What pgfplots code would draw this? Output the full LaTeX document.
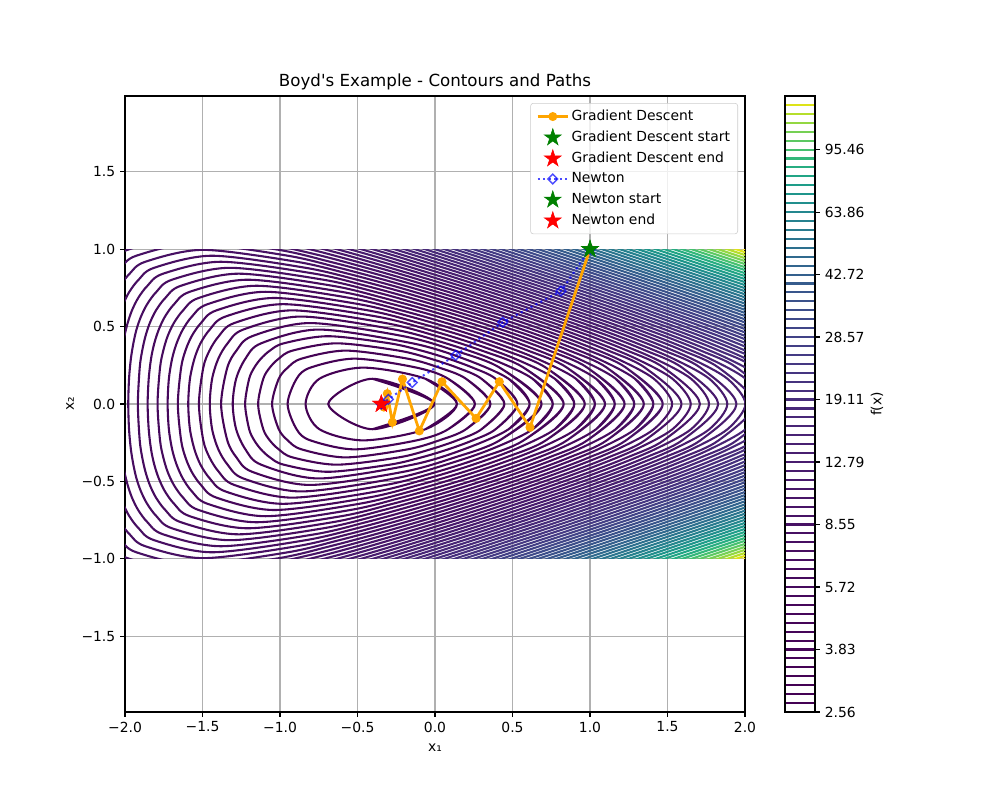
\documentclass[border=0pt]{standalone}
\usepackage{fontspec}
\setmainfont{DejaVu Sans}[Ligatures=TeXOff]
\usepackage{pgfplots}
\pgfplotsset{compat=1.18}

\definecolor{mplorange}{HTML}{FFA500}
\definecolor{mplgreen}{HTML}{008000}
\definecolor{mplred}{HTML}{FF0000}
\definecolor{mplblue}{HTML}{0000FF}
\definecolor{gridgray}{HTML}{B0B0B0}
\definecolor{lv0}{rgb}{.267,.005,.329}
\definecolor{lv1}{rgb}{.267,.005,.329}
\definecolor{lv2}{rgb}{.267,.005,.329}
\definecolor{lv3}{rgb}{.267,.005,.329}
\definecolor{lv4}{rgb}{.269,.010,.335}
\definecolor{lv5}{rgb}{.269,.010,.335}
\definecolor{lv6}{rgb}{.270,.015,.341}
\definecolor{lv7}{rgb}{.270,.015,.341}
\definecolor{lv8}{rgb}{.270,.015,.341}
\definecolor{lv9}{rgb}{.271,.020,.347}
\definecolor{lv10}{rgb}{.271,.020,.347}
\definecolor{lv11}{rgb}{.273,.026,.353}
\definecolor{lv12}{rgb}{.273,.026,.353}
\definecolor{lv13}{rgb}{.274,.031,.359}
\definecolor{lv14}{rgb}{.275,.038,.365}
\definecolor{lv15}{rgb}{.275,.038,.365}
\definecolor{lv16}{rgb}{.276,.044,.370}
\definecolor{lv17}{rgb}{.277,.050,.376}
\definecolor{lv18}{rgb}{.277,.050,.376}
\definecolor{lv19}{rgb}{.278,.056,.381}
\definecolor{lv20}{rgb}{.279,.062,.387}
\definecolor{lv21}{rgb}{.280,.068,.392}
\definecolor{lv22}{rgb}{.280,.073,.397}
\definecolor{lv23}{rgb}{.281,.079,.402}
\definecolor{lv24}{rgb}{.281,.084,.407}
\definecolor{lv25}{rgb}{.282,.090,.412}
\definecolor{lv26}{rgb}{.283,.100,.422}
\definecolor{lv27}{rgb}{.283,.105,.427}
\definecolor{lv28}{rgb}{.283,.111,.432}
\definecolor{lv29}{rgb}{.283,.121,.441}
\definecolor{lv30}{rgb}{.283,.126,.445}
\definecolor{lv31}{rgb}{.283,.136,.453}
\definecolor{lv32}{rgb}{.282,.146,.462}
\definecolor{lv33}{rgb}{.281,.156,.469}
\definecolor{lv34}{rgb}{.281,.161,.473}
\definecolor{lv35}{rgb}{.279,.175,.483}
\definecolor{lv36}{rgb}{.277,.185,.490}
\definecolor{lv37}{rgb}{.275,.195,.496}
\definecolor{lv38}{rgb}{.272,.209,.504}
\definecolor{lv39}{rgb}{.269,.219,.510}
\definecolor{lv40}{rgb}{.265,.233,.517}
\definecolor{lv41}{rgb}{.261,.247,.523}
\definecolor{lv42}{rgb}{.256,.261,.528}
\definecolor{lv43}{rgb}{.250,.274,.533}
\definecolor{lv44}{rgb}{.243,.292,.539}
\definecolor{lv45}{rgb}{.237,.305,.542}
\definecolor{lv46}{rgb}{.230,.322,.546}
\definecolor{lv47}{rgb}{.222,.339,.549}
\definecolor{lv48}{rgb}{.212,.360,.552}
\definecolor{lv49}{rgb}{.205,.376,.554}
\definecolor{lv50}{rgb}{.196,.395,.555}
\definecolor{lv51}{rgb}{.187,.415,.557}
\definecolor{lv52}{rgb}{.177,.438,.558}
\definecolor{lv53}{rgb}{.168,.460,.558}
\definecolor{lv54}{rgb}{.159,.482,.558}
\definecolor{lv55}{rgb}{.150,.504,.557}
\definecolor{lv56}{rgb}{.141,.530,.556}
\definecolor{lv57}{rgb}{.130,.560,.552}
\definecolor{lv58}{rgb}{.121,.586,.547}
\definecolor{lv59}{rgb}{.119,.615,.538}
\definecolor{lv60}{rgb}{.128,.648,.523}
\definecolor{lv61}{rgb}{.152,.680,.504}
\definecolor{lv62}{rgb}{.199,.716,.477}
\definecolor{lv63}{rgb}{.274,.752,.437}
\definecolor{lv64}{rgb}{.361,.786,.386}
\definecolor{lv65}{rgb}{.459,.816,.330}
\definecolor{lv66}{rgb}{.576,.845,.256}
\definecolor{lv67}{rgb}{.710,.869,.169}
\definecolor{lv68}{rgb}{.866,.890,.096}
\definecolor{lv69}{rgb}{.993,.906,.144}

\pgfdeclareplotmark{fstar}{%
  \pgfpathmoveto{\pgfpointpolar{90}{\pgfplotmarksize}}%
  \pgfpathlineto{\pgfpointpolar{126}{0.382*\pgfplotmarksize}}%
  \pgfpathlineto{\pgfpointpolar{162}{\pgfplotmarksize}}%
  \pgfpathlineto{\pgfpointpolar{198}{0.382*\pgfplotmarksize}}%
  \pgfpathlineto{\pgfpointpolar{234}{\pgfplotmarksize}}%
  \pgfpathlineto{\pgfpointpolar{270}{0.382*\pgfplotmarksize}}%
  \pgfpathlineto{\pgfpointpolar{306}{\pgfplotmarksize}}%
  \pgfpathlineto{\pgfpointpolar{342}{0.382*\pgfplotmarksize}}%
  \pgfpathlineto{\pgfpointpolar{18}{\pgfplotmarksize}}%
  \pgfpathlineto{\pgfpointpolar{54}{0.382*\pgfplotmarksize}}%
  \pgfpathclose
  \pgfusepathqfillstroke
}

\begin{document}
\begin{tikzpicture}
\useasboundingbox (0,0) rectangle (720pt,576pt);

% ---------- main frame, grid, ticks, labels ----------
\begin{axis}[
  name=main, at={(90pt,63.36pt)}, anchor=south west,
  scale only axis, width=446.4pt, height=443.52pt,
  xmin=-2, xmax=2, ymin=-1.99, ymax=1.99,
  xtick={-2,-1.5,-1,-0.5,0,0.5,1,1.5,2},
  xticklabels={−2.0,−1.5,−1.0,−0.5,0.0,0.5,1.0,1.5,2.0},
  ytick={-1.5,-1,-0.5,0,0.5,1,1.5},
  yticklabels={−1.5,−1.0,−0.5,0.0,0.5,1.0,1.5},
  tick pos=left, tick align=outside, major tick length=3.5pt,
  every tick/.style={black, line width=0.8pt},
  axis line style={line width=0.8pt},
  grid=major, major grid style={draw=gridgray, line width=0.8pt},
  title={Boyd's Example - Contours and Paths},
  every axis title shift=0pt,
  title style={font=\fontsize{12}{14}\selectfont, at={(axis description cs:0.5,1.0227)}, anchor=center, yshift=0pt},
  xlabel={x₁}, ylabel={x₂},
  xlabel style={at={(axis description cs:0.5,-0.0584)}, anchor=center},
  ylabel style={at={(axis description cs:-0.0887,0.5)}, anchor=center},
]
\end{axis}

% ---------- contour lines, clipped to [-2,2]x[-1,1] ----------
\begin{axis}[
  at={(main.center)}, anchor=center,
  scale only axis, width=446.4pt, height=222.874pt,
  xmin=-2, xmax=2, ymin=-1, ymax=1, hide axis,
  every axis plot/.append style={smooth, line width=1.5pt, line join=round},
]
\addplot[lv1] coordinates {(-0.404,-0.163) (-0.004,0) (-0.404,0.163) (-0.689,0) (-0.404,-0.163) (-0.004,0) (-0.404,0.163)};
\addplot[lv2] coordinates {(-0.062,-0.163) (0.142,0) (-0.062,0.163) (-0.462,0.235) (-0.746,0.163) (-0.835,0) (-0.746,-0.163) (-0.462,-0.235) (-0.062,-0.163) (0.142,0) (-0.062,0.163)};
\addplot[lv3] coordinates {(0.085,-0.163) (0.258,0) (0.085,0.163) (-0.119,0.235) (-0.519,0.293) (-0.804,0.235) (-0.893,0.163) (-0.951,0) (-0.893,-0.163) (-0.804,-0.235) (-0.519,-0.293) (-0.119,-0.235) (0.085,-0.163) (0.258,0) (0.085,0.163)};
\addplot[lv4] coordinates {(0.200,-0.163) (0.358,0) (0.200,0.163) (0.027,0.235) (-0.177,0.293) (-0.576,0.345) (-0.861,0.293) (-0.950,0.235) (-1.008,0.163) (-1.051,0) (-1.008,-0.163) (-0.950,-0.235) (-0.861,-0.293) (-0.576,-0.345) (-0.177,-0.293) (0.027,-0.235) (0.200,-0.163) (0.358,0) (0.200,0.163)};
\addplot[lv5] coordinates {(0.300,-0.163) (0.448,0) (0.300,0.163) (0.143,0.235) (-0.030,0.293) (-0.234,0.345) (-0.634,0.392) (-0.919,0.345) (-1.008,0.293) (-1.066,0.235) (-1.108,0.163) (-1.141,0) (-1.108,-0.163) (-1.066,-0.235) (-1.008,-0.293) (-0.919,-0.345) (-0.634,-0.392) (-0.234,-0.345) (-0.030,-0.293) (0.143,-0.235) (0.300,-0.163) (0.448,0) (0.300,0.163)};
\addplot[lv6] coordinates {(0.391,-0.163) (0.532,0) (0.391,0.163) (0.243,0.235) (0.085,0.293) (-0.088,0.345) (-0.292,0.392) (-0.691,0.438) (-0.976,0.392) (-1.065,0.345) (-1.123,0.293) (-1.166,0.235) (-1.199,0.163) (-1.225,0) (-1.199,-0.163) (-1.166,-0.235) (-1.123,-0.293) (-1.065,-0.345) (-0.976,-0.392) (-0.691,-0.438) (-0.292,-0.392) (-0.088,-0.345) (0.085,-0.293) (0.243,-0.235) (0.391,-0.163) (0.532,0) (0.391,0.163)};
\addplot[lv7] coordinates {(0.475,-0.163) (0.611,0) (0.475,0.163) (0.185,0.293) (-0.145,0.392) (-0.749,0.481) (-1.122,0.392) (-1.223,0.293) (-1.283,0.163) (-1.305,0) (-1.283,-0.163) (-1.223,-0.293) (-1.122,-0.392) (-0.749,-0.481) (-0.145,-0.392) (0.185,-0.293) (0.475,-0.163) (0.611,0) (0.475,0.163)};
\addplot[lv8] coordinates {(0.417,-0.235) (0.687,0) (0.417,0.235) (0.128,0.345) (-0.203,0.438) (-0.806,0.523) (-1.180,0.438) (-1.281,0.345) (-1.340,0.235) (-1.380,0) (-1.340,-0.235) (-1.281,-0.345) (-1.180,-0.438) (-0.806,-0.523) (-0.203,-0.438) (0.128,-0.345) (0.417,-0.235) (0.687,0) (0.417,0.235)};
\addplot[lv9] coordinates {(0.630,-0.163) (0.760,0) (0.630,0.163) (0.360,0.293) (0.070,0.392) (-0.260,0.481) (-0.864,0.565) (-1.237,0.481) (-1.338,0.392) (-1.398,0.293) (-1.438,0.163) (-1.453,0) (-1.438,-0.163) (-1.398,-0.293) (-1.338,-0.392) (-1.237,-0.481) (-0.864,-0.565) (-0.260,-0.481) (0.070,-0.392) (0.360,-0.293) (0.630,-0.163) (0.760,0) (0.630,0.163)};
\addplot[lv10] coordinates {(0.572,-0.235) (0.830,0) (0.572,0.235) (0.302,0.345) (0.013,0.438) (-0.318,0.523) (-0.921,0.605) (-1.295,0.523) (-1.395,0.438) (-1.455,0.345) (-1.495,0.235) (-1.523,0) (-1.495,-0.235) (-1.455,-0.345) (-1.395,-0.438) (-1.295,-0.523) (-0.921,-0.605) (-0.318,-0.523) (0.013,-0.438) (0.302,-0.345) (0.572,-0.235) (0.830,0) (0.572,0.235)};
\addplot[lv11] coordinates {(0.773,-0.163) (0.899,0) (0.773,0.163) (0.515,0.293) (0.245,0.392) (-0.045,0.481) (-0.375,0.565) (-0.979,0.645) (-1.352,0.565) (-1.453,0.481) (-1.513,0.392) (-1.552,0.293) (-1.581,0.163) (-1.592,0) (-1.581,-0.163) (-1.552,-0.293) (-1.513,-0.392) (-1.453,-0.481) (-1.352,-0.565) (-0.979,-0.645) (-0.375,-0.565) (-0.045,-0.481) (0.245,-0.392) (0.515,-0.293) (0.773,-0.163) (0.899,0) (0.773,0.163)};
\addplot[lv12] coordinates {(0.715,-0.235) (0.966,0) (0.715,0.235) (0.457,0.345) (0.188,0.438) (-0.102,0.523) (-0.432,0.605) (-1.036,0.685) (-1.410,0.605) (-1.510,0.523) (-1.570,0.438) (-1.610,0.345) (-1.638,0.235) (-1.659,0) (-1.638,-0.235) (-1.610,-0.345) (-1.570,-0.438) (-1.510,-0.523) (-1.410,-0.605) (-1.036,-0.685) (-0.432,-0.605) (-0.102,-0.523) (0.188,-0.438) (0.457,-0.345) (0.715,-0.235) (0.966,0) (0.715,0.235)};
\addplot[lv13] coordinates {(0.909,-0.163) (1.032,0) (0.909,0.163) (0.658,0.293) (0.400,0.392) (0.130,0.481) (-0.160,0.565) (-0.490,0.645) (-1.093,0.725) (-1.467,0.645) (-1.568,0.565) (-1.627,0.481) (-1.667,0.392) (-1.696,0.293) (-1.717,0.163) (-1.725,0) (-1.717,-0.163) (-1.696,-0.293) (-1.667,-0.392) (-1.627,-0.481) (-1.568,-0.565) (-1.467,-0.645) (-1.093,-0.725) (-0.490,-0.645) (-0.160,-0.565) (0.130,-0.481) (0.400,-0.392) (0.658,-0.293) (0.909,-0.163) (1.032,0) (0.909,0.163)};
\addplot[lv14] coordinates {(0.851,-0.235) (1.097,0) (0.851,0.235) (0.600,0.345) (0.342,0.438) (0.073,0.523) (-0.217,0.605) (-0.547,0.685) (-1.151,0.764) (-1.525,0.685) (-1.625,0.605) (-1.685,0.523) (-1.725,0.438) (-1.753,0.345) (-1.774,0.235) (-1.790,0) (-1.774,-0.235) (-1.753,-0.345) (-1.725,-0.438) (-1.685,-0.523) (-1.625,-0.605) (-1.525,-0.685) (-1.151,-0.764) (-0.547,-0.685) (-0.217,-0.605) (0.073,-0.523) (0.342,-0.438) (0.600,-0.345) (0.851,-0.235) (1.097,0) (0.851,0.235)};
\addplot[lv15] coordinates {(1.039,-0.163) (1.160,0) (1.039,0.163) (0.794,0.293) (0.543,0.392) (0.285,0.481) (0.015,0.565) (-0.274,0.645) (-0.605,0.725) (-1.208,0.803) (-1.582,0.725) (-1.683,0.645) (-1.742,0.565) (-1.782,0.481) (-1.811,0.392) (-1.832,0.293) (-1.847,0.163) (-1.854,0) (-1.847,-0.163) (-1.832,-0.293) (-1.811,-0.392) (-1.782,-0.481) (-1.742,-0.565) (-1.683,-0.645) (-1.582,-0.725) (-1.208,-0.803) (-0.605,-0.725) (-0.274,-0.645) (0.015,-0.565) (0.285,-0.481) (0.543,-0.392) (0.794,-0.293) (1.039,-0.163) (1.160,0) (1.039,0.163)};
\addplot[lv16] coordinates {(0.982,-0.235) (1.223,0) (0.982,0.235) (0.736,0.345) (0.486,0.438) (0.227,0.523) (-0.042,0.605) (-0.332,0.685) (-0.662,0.764) (-1.266,0.842) (-1.639,0.764) (-1.740,0.685) (-1.800,0.605) (-1.840,0.523) (-1.868,0.438) (-1.889,0.345) (-1.905,0.235) (-1.917,0) (-1.905,-0.235) (-1.889,-0.345) (-1.868,-0.438) (-1.840,-0.523) (-1.800,-0.605) (-1.740,-0.685) (-1.639,-0.764) (-1.266,-0.842) (-0.662,-0.764) (-0.332,-0.685) (-0.042,-0.605) (0.227,-0.523) (0.486,-0.438) (0.736,-0.345) (0.982,-0.235) (1.223,0) (0.982,0.235)};
\addplot[lv17] coordinates {(1.166,-0.163) (1.286,0) (1.166,0.163) (0.924,0.293) (0.679,0.392) (0.428,0.481) (0.170,0.565) (-0.100,0.645) (-0.389,0.725) (-0.720,0.803) (-1.323,0.880) (-1.697,0.803) (-1.797,0.725) (-1.857,0.645) (-1.897,0.565) (-1.926,0.481) (-1.946,0.392) (-1.962,0.293) (-1.974,0.163) (-1.979,0) (-1.974,-0.163) (-1.962,-0.293) (-1.946,-0.392) (-1.926,-0.481) (-1.897,-0.565) (-1.857,-0.645) (-1.797,-0.725) (-1.697,-0.803) (-1.323,-0.880) (-0.720,-0.803) (-0.389,-0.725) (-0.100,-0.645) (0.170,-0.565) (0.428,-0.481) (0.679,-0.392) (0.924,-0.293) (1.166,-0.163) (1.286,0) (1.166,0.163)};
\addplot[lv18] coordinates {(1.108,-0.235) (1.347,0) (1.108,0.235) (0.867,0.345) (0.621,0.438) (0.371,0.523) (0.113,0.605) (-0.157,0.685) (-0.447,0.764) (-0.777,0.842) (-1.381,0.919) (-1.754,0.842) (-1.855,0.764) (-1.915,0.685) (-1.955,0.605) (-1.983,0.523) (-2.004,0.438) (-2.020,0.345) (-2.031,0.235) (-2.041,0) (-2.031,-0.235) (-2.020,-0.345) (-2.004,-0.438) (-1.983,-0.523) (-1.955,-0.605) (-1.915,-0.685) (-1.855,-0.764) (-1.754,-0.842) (-1.381,-0.919) (-0.777,-0.842) (-0.447,-0.764) (-0.157,-0.685) (0.113,-0.605) (0.371,-0.523) (0.621,-0.438) (0.867,-0.345) (1.108,-0.235) (1.347,0) (1.108,0.235)};
\addplot[lv19] coordinates {(1.290,-0.163) (1.409,0) (1.290,0.163) (1.051,0.293) (0.809,0.392) (0.564,0.481) (0.313,0.565) (0.055,0.645) (-0.215,0.725) (-0.504,0.803) (-0.835,0.880) (-1.438,0.958) (-1.812,0.880) (-1.912,0.803) (-1.972,0.725) (-2.012,0.645) (-2.040,0.565) (-2.061,0.481) (-2.077,0.392) (-2.089,0.293) (-2.098,0.163) (-2.102,0) (-2.098,-0.163) (-2.089,-0.293) (-2.077,-0.392) (-2.061,-0.481) (-2.040,-0.565) (-2.012,-0.645) (-1.972,-0.725) (-1.912,-0.803) (-1.812,-0.880) (-1.438,-0.958) (-0.835,-0.880) (-0.504,-0.803) (-0.215,-0.725) (0.055,-0.645) (0.313,-0.565) (0.564,-0.481) (0.809,-0.392) (1.051,-0.293) (1.290,-0.163) (1.409,0) (1.290,0.163)};
\addplot[lv20] coordinates {(1.232,-0.235) (1.469,0) (1.232,0.235) (0.994,0.345) (0.752,0.438) (0.507,0.523) (0.256,0.605) (-0.002,0.685) (-0.272,0.764) (-0.562,0.842) (-0.892,0.919) (-1.496,0.996) (-1.869,0.919) (-1.970,0.842) (-2.030,0.764) (-2.069,0.685) (-2.098,0.605) (-2.119,0.523) (-2.134,0.438) (-2.146,0.345) (-2.155,0.235) (-2.163,0) (-2.155,-0.235) (-2.146,-0.345) (-2.134,-0.438) (-2.119,-0.523) (-2.098,-0.605) (-2.069,-0.685) (-2.030,-0.764) (-1.970,-0.842) (-1.869,-0.919) (-1.496,-0.996) (-0.892,-0.919) (-0.562,-0.842) (-0.272,-0.764) (-0.002,-0.685) (0.256,-0.605) (0.507,-0.523) (0.752,-0.438) (0.994,-0.345) (1.232,-0.235) (1.469,0) (1.232,0.235)};
\addplot[lv21] coordinates {(-2.087,-0.803) (-2.027,-0.880) (-1.927,-0.958) (-1.553,-1.035) (-0.949,-0.958) (-0.619,-0.880) (-0.330,-0.803) (-0.060,-0.725) (0.198,-0.645) (0.449,-0.565) (0.694,-0.481) (0.936,-0.392) (1.175,-0.293) (1.412,-0.163) (1.530,0) (1.412,0.163) (1.175,0.293) (0.936,0.392) (0.694,0.481) (0.449,0.565) (0.198,0.645) (-0.060,0.725) (-0.330,0.803) (-0.619,0.880) (-0.949,0.958) (-1.553,1.035) (-1.927,0.958) (-2.027,0.880) (-2.087,0.803)};
\addplot[lv22] coordinates {(-2.144,-0.842) (-2.085,-0.919) (-1.984,-0.996) (-1.610,-1.073) (-1.007,-0.996) (-0.677,-0.919) (-0.387,-0.842) (-0.117,-0.764) (0.141,-0.685) (0.392,-0.605) (0.637,-0.523) (0.879,-0.438) (1.118,-0.345) (1.354,-0.235) (1.590,0) (1.354,0.235) (1.118,0.345) (0.879,0.438) (0.637,0.523) (0.392,0.605) (0.141,0.685) (-0.117,0.764) (-0.387,0.842) (-0.677,0.919) (-1.007,0.996) (-1.610,1.073) (-1.984,0.996) (-2.085,0.919) (-2.144,0.842)};
\addplot[lv23] coordinates {(-1.064,-1.035) (-0.734,-0.958) (-0.444,-0.880) (-0.175,-0.803) (0.083,-0.725) (0.334,-0.645) (0.580,-0.565) (0.821,-0.481) (1.060,-0.392) (1.297,-0.293) (1.532,-0.163) (1.650,0) (1.532,0.163) (1.297,0.293) (1.060,0.392) (0.821,0.481) (0.580,0.565) (0.334,0.645) (0.083,0.725) (-0.175,0.803) (-0.444,0.880) (-0.734,0.958) (-1.064,1.035)};
\addplot[lv24] coordinates {(-1.122,-1.073) (-0.791,-0.996) (-0.502,-0.919) (-0.232,-0.842) (0.026,-0.764) (0.277,-0.685) (0.522,-0.605) (0.764,-0.523) (1.003,-0.438) (1.240,-0.345) (1.475,-0.235) (1.709,0) (1.475,0.235) (1.240,0.345) (1.003,0.438) (0.764,0.523) (0.522,0.605) (0.277,0.685) (0.026,0.764) (-0.232,0.842) (-0.502,0.919) (-0.791,0.996) (-1.122,1.073)};
\addplot[lv25] coordinates {(-0.849,-1.035) (-0.559,-0.958) (-0.290,-0.880) (-0.032,-0.803) (0.219,-0.725) (0.465,-0.645) (0.706,-0.565) (0.945,-0.481) (1.182,-0.392) (1.418,-0.293) (1.652,-0.163) (1.768,0) (1.652,0.163) (1.418,0.293) (1.182,0.392) (0.945,0.481) (0.706,0.565) (0.465,0.645) (0.219,0.725) (-0.032,0.803) (-0.290,0.880) (-0.559,0.958) (-0.849,1.035)};
\addplot[lv26] coordinates {(-0.906,-1.073) (-0.617,-0.996) (-0.347,-0.919) (-0.089,-0.842) (0.162,-0.764) (0.407,-0.685) (0.649,-0.605) (0.888,-0.523) (1.125,-0.438) (1.360,-0.345) (1.594,-0.235) (1.827,0) (1.594,0.235) (1.360,0.345) (1.125,0.438) (0.888,0.523) (0.649,0.605) (0.407,0.685) (0.162,0.764) (-0.089,0.842) (-0.347,0.919) (-0.617,0.996) (-0.906,1.073)};
\addplot[lv27] coordinates {(-0.674,-1.035) (-0.404,-0.958) (-0.146,-0.880) (0.104,-0.803) (0.350,-0.725) (0.591,-0.645) (0.830,-0.565) (1.067,-0.481) (1.303,-0.392) (1.537,-0.293) (1.770,-0.163) (1.886,0) (1.770,0.163) (1.537,0.293) (1.303,0.392) (1.067,0.481) (0.830,0.565) (0.591,0.645) (0.350,0.725) (0.104,0.803) (-0.146,0.880) (-0.404,0.958) (-0.674,1.035)};
\addplot[lv28] coordinates {(-0.732,-1.073) (-0.462,-0.996) (-0.204,-0.919) (0.047,-0.842) (0.292,-0.764) (0.534,-0.685) (0.773,-0.605) (1.010,-0.523) (1.245,-0.438) (1.479,-0.345) (1.712,-0.235) (1.945,0) (1.712,0.235) (1.479,0.345) (1.245,0.438) (1.010,0.523) (0.773,0.605) (0.534,0.685) (0.292,0.764) (0.047,0.842) (-0.204,0.919) (-0.462,0.996) (-0.732,1.073)};
\addplot[lv29] coordinates {(-0.519,-1.035) (-0.261,-0.958) (-0.011,-0.880) (0.235,-0.803) (0.477,-0.725) (0.715,-0.645) (0.952,-0.565) (1.188,-0.481) (1.422,-0.392) (1.655,-0.293) (1.887,-0.163) (2.003,0) (1.887,0.163) (1.655,0.293) (1.422,0.392) (1.188,0.481) (0.952,0.565) (0.715,0.645) (0.477,0.725) (0.235,0.803) (-0.011,0.880) (-0.261,0.958) (-0.519,1.035)};
\addplot[lv30] coordinates {(-0.577,-1.073) (-0.319,-0.996) (-0.068,-0.919) (0.177,-0.842) (0.419,-0.764) (0.658,-0.685) (0.895,-0.605) (1.130,-0.523) (1.364,-0.438) (1.598,-0.345) (1.830,-0.235) (2.062,0) (1.830,0.235) (1.598,0.345) (1.364,0.438) (1.130,0.523) (0.895,0.605) (0.658,0.685) (0.419,0.764) (0.177,0.842) (-0.068,0.919) (-0.319,0.996) (-0.577,1.073)};
\addplot[lv31] coordinates {(-0.376,-1.035) (-0.125,-0.958) (0.120,-0.880) (0.362,-0.803) (0.601,-0.725) (0.837,-0.645) (1.073,-0.565) (1.307,-0.481) (1.540,-0.392) (1.773,-0.293) (2.004,-0.163) (2.120,0) (2.004,0.163) (1.773,0.293) (1.540,0.392) (1.307,0.481) (1.073,0.565) (0.837,0.645) (0.601,0.725) (0.362,0.803) (0.120,0.880) (-0.125,0.958) (-0.376,1.035)};
\addplot[lv32] coordinates {(-0.434,-1.073) (-0.183,-0.996) (0.063,-0.919) (0.304,-0.842) (0.543,-0.764) (0.780,-0.685) (1.015,-0.605) (1.249,-0.523) (1.483,-0.438) (1.715,-0.345) (1.947,-0.235) (2.178,0) (1.947,0.235) (1.715,0.345) (1.483,0.438) (1.249,0.523) (1.015,0.605) (0.780,0.685) (0.543,0.764) (0.304,0.842) (0.063,0.919) (-0.183,0.996) (-0.434,1.073)};
\addplot[lv33] coordinates {(-0.240,-1.035) (0.005,-0.958) (0.247,-0.880) (0.486,-0.803) (0.723,-0.725) (0.958,-0.645) (1.192,-0.565) (1.425,-0.481) (1.658,-0.392) (1.890,-0.293) (2.121,-0.163) (2.237,0) (2.121,0.163) (1.890,0.293) (1.658,0.392) (1.425,0.481) (1.192,0.565) (0.958,0.645) (0.723,0.725) (0.486,0.803) (0.247,0.880) (0.005,0.958) (-0.240,1.035)};
\addplot[lv34] coordinates {(-0.298,-1.073) (-0.052,-0.996) (0.189,-0.919) (0.428,-0.842) (0.665,-0.764) (0.901,-0.685) (1.135,-0.605) (1.368,-0.523) (1.600,-0.438) (1.832,-0.345) (2.064,-0.235) (2.295,0) (2.064,0.235) (1.832,0.345) (1.600,0.438) (1.368,0.523) (1.135,0.605) (0.901,0.685) (0.665,0.764) (0.428,0.842) (0.189,0.919) (-0.052,0.996) (-0.298,1.073)};
\addplot[lv35] coordinates {(-0.110,-1.035) (0.132,-0.958) (0.371,-0.880) (0.608,-0.803) (0.843,-0.725) (1.077,-0.645) (1.310,-0.565) (1.543,-0.481) (1.775,-0.392) (2.006,-0.293) (2.237,-0.163) (2.353,0) (2.237,0.163) (2.006,0.293) (1.775,0.392) (1.543,0.481) (1.310,0.565) (1.077,0.645) (0.843,0.725) (0.608,0.803) (0.371,0.880) (0.132,0.958) (-0.110,1.035)};
\addplot[lv36] coordinates {(-0.167,-1.073) (0.074,-0.996) (0.313,-0.919) (0.550,-0.842) (0.786,-0.764) (1.020,-0.685) (1.253,-0.605) (1.485,-0.523) (1.717,-0.438) (1.949,-0.345) (2.180,-0.235) (2.411,0) (2.180,0.235) (1.949,0.345) (1.717,0.438) (1.485,0.523) (1.253,0.605) (1.020,0.685) (0.786,0.764) (0.550,0.842) (0.313,0.919) (0.074,0.996) (-0.167,1.073)};
\addplot[lv37] coordinates {(2.122,0.293) (1.891,0.392) (1.660,0.481) (1.428,0.565) (1.195,0.645) (0.962,0.725) (0.728,0.803) (0.493,0.880) (0.256,0.958) (0.017,1.035)};
\addplot[lv37] coordinates {(2.122,-0.293) (1.891,-0.392) (1.660,-0.481) (1.428,-0.565) (1.195,-0.645) (0.962,-0.725) (0.728,-0.803) (0.493,-0.880) (0.256,-0.958) (0.017,-1.035)};
\addplot[lv38] coordinates {(2.065,0.345) (1.834,0.438) (1.602,0.523) (1.370,0.605) (1.138,0.685) (0.905,0.764) (0.671,0.842) (0.435,0.919) (0.198,0.996) (-0.041,1.073)};
\addplot[lv38] coordinates {(2.065,-0.345) (1.834,-0.438) (1.602,-0.523) (1.370,-0.605) (1.138,-0.685) (0.905,-0.764) (0.671,-0.842) (0.435,-0.919) (0.198,-0.996) (-0.041,-1.073)};
\addplot[lv39] coordinates {(2.238,0.293) (2.007,0.392) (1.776,0.481) (1.545,0.565) (1.313,0.645) (1.081,0.725) (0.847,0.803) (0.613,0.880) (0.378,0.958) (0.141,1.035)};
\addplot[lv39] coordinates {(2.238,-0.293) (2.007,-0.392) (1.776,-0.481) (1.545,-0.565) (1.313,-0.645) (1.081,-0.725) (0.847,-0.803) (0.613,-0.880) (0.378,-0.958) (0.141,-1.035)};
\addplot[lv40] coordinates {(2.181,0.345) (1.950,0.438) (1.719,0.523) (1.487,0.605) (1.256,0.685) (1.023,0.764) (0.790,0.842) (0.556,0.919) (0.320,0.996) (0.084,1.073)};
\addplot[lv40] coordinates {(2.181,-0.345) (1.950,-0.438) (1.719,-0.523) (1.487,-0.605) (1.256,-0.685) (1.023,-0.764) (0.790,-0.842) (0.556,-0.919) (0.320,-0.996) (0.084,-1.073)};
\addplot[lv41] coordinates {(2.123,0.392) (1.893,0.481) (1.661,0.565) (1.430,0.645) (1.198,0.725) (0.966,0.803) (0.733,0.880) (0.498,0.958) (0.263,1.035)};
\addplot[lv41] coordinates {(2.123,-0.392) (1.893,-0.481) (1.661,-0.565) (1.430,-0.645) (1.198,-0.725) (0.966,-0.803) (0.733,-0.880) (0.498,-0.958) (0.263,-1.035)};
\addplot[lv42] coordinates {(2.066,0.438) (1.835,0.523) (1.604,0.605) (1.373,0.685) (1.141,0.764) (0.908,0.842) (0.675,0.919) (0.441,0.996) (0.206,1.073)};
\addplot[lv42] coordinates {(2.066,-0.438) (1.835,-0.523) (1.604,-0.605) (1.373,-0.685) (1.141,-0.764) (0.908,-0.842) (0.675,-0.919) (0.441,-0.996) (0.206,-1.073)};
\addplot[lv43] coordinates {(2.239,0.392) (2.008,0.481) (1.778,0.565) (1.547,0.645) (1.315,0.725) (1.083,0.803) (0.851,0.880) (0.618,0.958) (0.384,1.035)};
\addplot[lv43] coordinates {(2.239,-0.392) (2.008,-0.481) (1.778,-0.565) (1.547,-0.645) (1.315,-0.725) (1.083,-0.803) (0.851,-0.880) (0.618,-0.958) (0.384,-1.035)};
\addplot[lv44] coordinates {(2.182,0.438) (1.951,0.523) (1.720,0.605) (1.489,0.685) (1.258,0.764) (1.026,0.842) (0.793,0.919) (0.560,0.996) (0.326,1.073)};
\addplot[lv44] coordinates {(2.182,-0.438) (1.951,-0.523) (1.720,-0.605) (1.489,-0.685) (1.258,-0.764) (1.026,-0.842) (0.793,-0.919) (0.560,-0.996) (0.326,-1.073)};
\addplot[lv45] coordinates {(2.124,0.481) (1.894,0.565) (1.663,0.645) (1.432,0.725) (1.200,0.803) (0.968,0.880) (0.736,0.958) (0.503,1.035)};
\addplot[lv45] coordinates {(2.124,-0.481) (1.894,-0.565) (1.663,-0.645) (1.432,-0.725) (1.200,-0.803) (0.968,-0.880) (0.736,-0.958) (0.503,-1.035)};
\addplot[lv46] coordinates {(2.067,0.523) (1.836,0.605) (1.605,0.685) (1.374,0.764) (1.143,0.842) (0.911,0.919) (0.678,0.996) (0.445,1.073)};
\addplot[lv46] coordinates {(2.067,-0.523) (1.836,-0.605) (1.605,-0.685) (1.374,-0.764) (1.143,-0.842) (0.911,-0.919) (0.678,-0.996) (0.445,-1.073)};
\addplot[lv47] coordinates {(2.240,0.481) (2.009,0.565) (1.779,0.645) (1.548,0.725) (1.317,0.803) (1.085,0.880) (0.853,0.958) (0.621,1.035)};
\addplot[lv47] coordinates {(2.240,-0.481) (2.009,-0.565) (1.779,-0.645) (1.548,-0.725) (1.317,-0.803) (1.085,-0.880) (0.853,-0.958) (0.621,-1.035)};
\addplot[lv48] coordinates {(2.182,0.523) (1.952,0.605) (1.721,0.685) (1.490,0.764) (1.259,0.842) (1.028,0.919) (0.796,0.996) (0.564,1.073)};
\addplot[lv48] coordinates {(2.182,-0.523) (1.952,-0.605) (1.721,-0.685) (1.490,-0.764) (1.259,-0.842) (1.028,-0.919) (0.796,-0.996) (0.564,-1.073)};
\addplot[lv49] coordinates {(2.125,0.565) (1.894,0.645) (1.664,0.725) (1.433,0.803) (1.202,0.880) (0.970,0.958) (0.739,1.035)};
\addplot[lv49] coordinates {(2.125,-0.565) (1.894,-0.645) (1.664,-0.725) (1.433,-0.803) (1.202,-0.880) (0.970,-0.958) (0.739,-1.035)};
\addplot[lv50] coordinates {(2.067,0.605) (1.837,0.685) (1.606,0.764) (1.376,0.842) (1.144,0.919) (0.913,0.996) (0.681,1.073)};
\addplot[lv50] coordinates {(2.067,-0.605) (1.837,-0.685) (1.606,-0.764) (1.376,-0.842) (1.144,-0.919) (0.913,-0.996) (0.681,-1.073)};
\addplot[lv51] coordinates {(2.240,0.565) (2.010,0.645) (1.780,0.725) (1.549,0.803) (1.318,0.880) (1.087,0.958) (0.856,1.035)};
\addplot[lv51] coordinates {(2.240,-0.565) (2.010,-0.645) (1.780,-0.725) (1.549,-0.803) (1.318,-0.880) (1.087,-0.958) (0.856,-1.035)};
\addplot[lv52] coordinates {(2.183,0.605) (1.953,0.685) (1.722,0.764) (1.491,0.842) (1.261,0.919) (1.030,0.996) (0.798,1.073)};
\addplot[lv52] coordinates {(2.183,-0.605) (1.953,-0.685) (1.722,-0.764) (1.491,-0.842) (1.261,-0.919) (1.030,-0.996) (0.798,-1.073)};
\addplot[lv53] coordinates {(2.125,0.645) (1.895,0.725) (1.665,0.803) (1.434,0.880) (1.203,0.958) (0.972,1.035)};
\addplot[lv53] coordinates {(2.125,-0.645) (1.895,-0.725) (1.665,-0.803) (1.434,-0.880) (1.203,-0.958) (0.972,-1.035)};
\addplot[lv54] coordinates {(2.068,0.685) (1.838,0.764) (1.607,0.842) (1.377,0.919) (1.146,0.996) (0.915,1.073)};
\addplot[lv54] coordinates {(2.068,-0.685) (1.838,-0.764) (1.607,-0.842) (1.377,-0.919) (1.146,-0.996) (0.915,-1.073)};
\addplot[lv55] coordinates {(2.241,0.645) (2.010,0.725) (1.780,0.803) (1.550,0.880) (1.319,0.958) (1.088,1.035)};
\addplot[lv55] coordinates {(2.241,-0.645) (2.010,-0.725) (1.780,-0.803) (1.550,-0.880) (1.319,-0.958) (1.088,-1.035)};
\addplot[lv56] coordinates {(2.183,0.685) (1.953,0.764) (1.723,0.842) (1.492,0.919) (1.262,0.996) (1.031,1.073)};
\addplot[lv56] coordinates {(2.183,-0.685) (1.953,-0.764) (1.723,-0.842) (1.492,-0.919) (1.262,-0.996) (1.031,-1.073)};
\addplot[lv57] coordinates {(2.126,0.725) (1.896,0.803) (1.665,0.880) (1.435,0.958) (1.204,1.035)};
\addplot[lv57] coordinates {(2.126,-0.725) (1.896,-0.803) (1.665,-0.880) (1.435,-0.958) (1.204,-1.035)};
\addplot[lv58] coordinates {(2.068,0.764) (1.838,0.842) (1.608,0.919) (1.377,0.996) (1.147,1.073)};
\addplot[lv58] coordinates {(2.068,-0.764) (1.838,-0.842) (1.608,-0.919) (1.377,-0.996) (1.147,-1.073)};
\addplot[lv59] coordinates {(2.241,0.725) (2.011,0.803) (1.781,0.880) (1.550,0.958) (1.320,1.035)};
\addplot[lv59] coordinates {(2.241,-0.725) (2.011,-0.803) (1.781,-0.880) (1.550,-0.958) (1.320,-1.035)};
\addplot[lv60] coordinates {(2.184,0.764) (1.953,0.842) (1.723,0.919) (1.493,0.996) (1.263,1.073)};
\addplot[lv60] coordinates {(2.184,-0.764) (1.953,-0.842) (1.723,-0.919) (1.493,-0.996) (1.263,-1.073)};
\addplot[lv61] coordinates {(2.126,0.803) (1.896,0.880) (1.666,0.958) (1.436,1.035)};
\addplot[lv61] coordinates {(2.126,-0.803) (1.896,-0.880) (1.666,-0.958) (1.436,-1.035)};
\addplot[lv62] coordinates {(2.069,0.842) (1.839,0.919) (1.608,0.996) (1.378,1.073)};
\addplot[lv62] coordinates {(2.069,-0.842) (1.839,-0.919) (1.608,-0.996) (1.378,-1.073)};
\addplot[lv63] coordinates {(2.241,0.803) (2.011,0.880) (1.781,0.958) (1.551,1.035)};
\addplot[lv63] coordinates {(2.241,-0.803) (2.011,-0.880) (1.781,-0.958) (1.551,-1.035)};
\addplot[lv64] coordinates {(2.184,0.842) (1.954,0.919) (1.724,0.996) (1.493,1.073)};
\addplot[lv64] coordinates {(2.184,-0.842) (1.954,-0.919) (1.724,-0.996) (1.493,-1.073)};
\addplot[lv65] coordinates {(2.126,0.880) (1.896,0.958) (1.666,1.035)};
\addplot[lv65] coordinates {(2.126,-0.880) (1.896,-0.958) (1.666,-1.035)};
\addplot[lv66] coordinates {(2.069,0.919) (1.839,0.996) (1.609,1.073)};
\addplot[lv66] coordinates {(2.069,-0.919) (1.839,-0.996) (1.609,-1.073)};
\addplot[lv67] coordinates {(2.242,0.880) (2.012,0.958) (1.781,1.035)};
\addplot[lv67] coordinates {(2.242,-0.880) (2.012,-0.958) (1.781,-1.035)};
\addplot[lv68] coordinates {(2.184,0.919) (1.954,0.996) (1.724,1.073)};
\addplot[lv68] coordinates {(2.184,-0.919) (1.954,-0.996) (1.724,-1.073)};
\addplot[lv69] coordinates {(2.127,0.958) (1.897,1.035)};
\addplot[lv69] coordinates {(2.127,-0.958) (1.897,-1.035)};
\end{axis}

% ---------- optimisation paths and legend ----------
\begin{axis}[
  at={(main.south west)}, anchor=south west,
  scale only axis, width=446.4pt, height=443.52pt,
  xmin=-2, xmax=2, ymin=-1.99, ymax=1.99, hide axis, clip=false,
  legend style={at={(axis description cs:0.9887,0.9886)}, anchor=north east,
    draw=black!20, fill=white, fill opacity=0.8, text opacity=1, rounded corners=2pt,
    font=\fontsize{10}{12}\selectfont, inner xsep=4pt, inner ysep=3.5pt,
    row sep=2.7pt, nodes={inner sep=1.5pt}},
  legend cell align=left,
  legend image code/.code={\draw[mark repeat=2,mark phase=2,#1] plot coordinates {(0pt,0pt) (11pt,0pt) (22pt,0pt)};},
  legend image post style={fill opacity=1},
]
\addplot[mplorange, line width=2pt, mark=*, mark size=2.2pt, mark options={solid, fill=mplorange, draw=mplorange}]
  coordinates {(1,1) (0.613,-0.151) (0.415,0.144) (0.265,-0.093) (0.045,0.144) (-0.101,-0.174) (-0.210,0.161) (-0.275,-0.118) (-0.308,0.067) (-0.330,-0.020) (-0.3466,0)};
\addlegendentry{Gradient Descent}
\addplot[only marks, mark=fstar, mark size=6.4pt, mark options={fill=mplgreen, draw=mplgreen, line width=0.4pt}] coordinates {(1,1)};
\addlegendentry{Gradient Descent start}
\addplot[only marks, mark=fstar, mark size=6.4pt, mark options={fill=mplred, draw=mplred, line width=0.4pt}] coordinates {(-0.3466,0)};
\addlegendentry{Gradient Descent end}
\addplot[mplblue, opacity=0.7, line width=1.5pt, dash pattern=on 1.5pt off 2.5pt, mark=square, mark size=2.5pt, mark options={solid, rotate=45, fill=white, draw=mplblue, line width=1pt}]
  coordinates {(1,1) (0.813,0.730) (0.437,0.528) (0.134,0.315) (-0.147,0.139) (-0.301,0.030) (-0.343,0.002) (-0.3466,0)};
\addlegendentry{Newton}
\addplot[only marks, mark=fstar, mark size=6.4pt, mark options={fill=mplgreen, draw=mplgreen, line width=0.4pt}] coordinates {(1,1)};
\addlegendentry{Newton start}
\addplot[only marks, mark=fstar, mark size=6.4pt, mark options={fill=mplred, draw=mplred, line width=0.4pt}] coordinates {(-0.3466,0)};
\addlegendentry{Newton end}
\end{axis}

% ---------- colour bar ----------
\begin{axis}[
  at={(565.2pt,63.36pt)}, anchor=south west,
  scale only axis, width=21.6pt, height=443.52pt,
  xmin=0, xmax=1, ymin=0, ymax=69, xtick=\empty,
  ytick={0,7,14,21,28,35,42,49,56,63},
  yticklabels={2.56,3.83,5.72,8.55,12.79,19.11,28.57,42.72,63.86,95.46},
  ytick pos=right, yticklabel pos=right, tick align=outside, major tick length=3.5pt,
  every tick/.style={black, line width=0.8pt},
  axis line style={line width=0.8pt},
  axis on top, clip=false,
  ylabel={f(x)},
  ylabel style={at={(axis description cs:3.067,0.5)}, anchor=center},
  every axis plot/.append style={line width=1.5pt},
]
\addplot[lv0] coordinates {(0,0) (1,0)};
\addplot[lv1] coordinates {(0,1) (1,1)};
\addplot[lv2] coordinates {(0,2) (1,2)};
\addplot[lv3] coordinates {(0,3) (1,3)};
\addplot[lv4] coordinates {(0,4) (1,4)};
\addplot[lv5] coordinates {(0,5) (1,5)};
\addplot[lv6] coordinates {(0,6) (1,6)};
\addplot[lv7] coordinates {(0,7) (1,7)};
\addplot[lv8] coordinates {(0,8) (1,8)};
\addplot[lv9] coordinates {(0,9) (1,9)};
\addplot[lv10] coordinates {(0,10) (1,10)};
\addplot[lv11] coordinates {(0,11) (1,11)};
\addplot[lv12] coordinates {(0,12) (1,12)};
\addplot[lv13] coordinates {(0,13) (1,13)};
\addplot[lv14] coordinates {(0,14) (1,14)};
\addplot[lv15] coordinates {(0,15) (1,15)};
\addplot[lv16] coordinates {(0,16) (1,16)};
\addplot[lv17] coordinates {(0,17) (1,17)};
\addplot[lv18] coordinates {(0,18) (1,18)};
\addplot[lv19] coordinates {(0,19) (1,19)};
\addplot[lv20] coordinates {(0,20) (1,20)};
\addplot[lv21] coordinates {(0,21) (1,21)};
\addplot[lv22] coordinates {(0,22) (1,22)};
\addplot[lv23] coordinates {(0,23) (1,23)};
\addplot[lv24] coordinates {(0,24) (1,24)};
\addplot[lv25] coordinates {(0,25) (1,25)};
\addplot[lv26] coordinates {(0,26) (1,26)};
\addplot[lv27] coordinates {(0,27) (1,27)};
\addplot[lv28] coordinates {(0,28) (1,28)};
\addplot[lv29] coordinates {(0,29) (1,29)};
\addplot[lv30] coordinates {(0,30) (1,30)};
\addplot[lv31] coordinates {(0,31) (1,31)};
\addplot[lv32] coordinates {(0,32) (1,32)};
\addplot[lv33] coordinates {(0,33) (1,33)};
\addplot[lv34] coordinates {(0,34) (1,34)};
\addplot[lv35] coordinates {(0,35) (1,35)};
\addplot[lv36] coordinates {(0,36) (1,36)};
\addplot[lv37] coordinates {(0,37) (1,37)};
\addplot[lv38] coordinates {(0,38) (1,38)};
\addplot[lv39] coordinates {(0,39) (1,39)};
\addplot[lv40] coordinates {(0,40) (1,40)};
\addplot[lv41] coordinates {(0,41) (1,41)};
\addplot[lv42] coordinates {(0,42) (1,42)};
\addplot[lv43] coordinates {(0,43) (1,43)};
\addplot[lv44] coordinates {(0,44) (1,44)};
\addplot[lv45] coordinates {(0,45) (1,45)};
\addplot[lv46] coordinates {(0,46) (1,46)};
\addplot[lv47] coordinates {(0,47) (1,47)};
\addplot[lv48] coordinates {(0,48) (1,48)};
\addplot[lv49] coordinates {(0,49) (1,49)};
\addplot[lv50] coordinates {(0,50) (1,50)};
\addplot[lv51] coordinates {(0,51) (1,51)};
\addplot[lv52] coordinates {(0,52) (1,52)};
\addplot[lv53] coordinates {(0,53) (1,53)};
\addplot[lv54] coordinates {(0,54) (1,54)};
\addplot[lv55] coordinates {(0,55) (1,55)};
\addplot[lv56] coordinates {(0,56) (1,56)};
\addplot[lv57] coordinates {(0,57) (1,57)};
\addplot[lv58] coordinates {(0,58) (1,58)};
\addplot[lv59] coordinates {(0,59) (1,59)};
\addplot[lv60] coordinates {(0,60) (1,60)};
\addplot[lv61] coordinates {(0,61) (1,61)};
\addplot[lv62] coordinates {(0,62) (1,62)};
\addplot[lv63] coordinates {(0,63) (1,63)};
\addplot[lv64] coordinates {(0,64) (1,64)};
\addplot[lv65] coordinates {(0,65) (1,65)};
\addplot[lv66] coordinates {(0,66) (1,66)};
\addplot[lv67] coordinates {(0,67) (1,67)};
\addplot[lv68] coordinates {(0,68) (1,68)};
\addplot[lv69] coordinates {(0,69) (1,69)};
\end{axis}
\end{tikzpicture}
\end{document}
